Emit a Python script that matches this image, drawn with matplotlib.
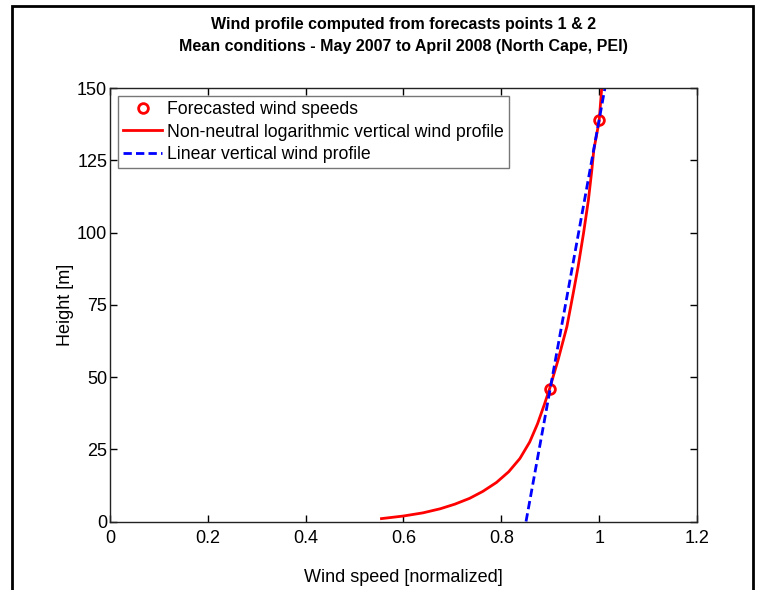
import matplotlib
matplotlib.use('Agg')
import matplotlib.pyplot as plt
from matplotlib.patches import Rectangle

plt.rcParams['font.family'] = ['Liberation Sans', 'DejaVu Sans']

# forecasted points (normalized speed, height)
fc_speed = [0.900, 1.000]
fc_height = [46.0, 139.0]

# non-neutral log profile
log_speed = [0.555, 0.600, 0.640, 0.675, 0.705, 0.735, 0.762, 0.790, 0.815, 0.838,
             0.858, 0.874, 0.888, 0.899, 0.916, 0.934, 0.947, 0.957, 0.968, 0.978,
             0.985, 0.989, 0.995, 1.000, 1.005]
log_height = [1.0, 1.9, 3.0, 4.4, 6.0, 8.0, 10.4, 13.5, 17.2, 21.8,
              27.5, 33.8, 40.5, 46.1, 55.9, 67.4, 79.0, 88.2, 99.7, 111.2,
              121.6, 128.5, 134.0, 138.6, 149.5]

# linear profile through both points
lin_speed = [0.8505, 1.0118]
lin_height = [0.0, 150.0]

fig = plt.figure(figsize=(7.59, 5.90), dpi=100)
ax = fig.add_axes([0.1449, 0.1161, 0.7734, 0.7347])

# frame round the figure (bottom edge is cut off in the original)
fig.patches.append(Rectangle((11.5 / 759, -0.05), (753 - 11.5) / 759, 1.05 - 5.5 / 590,
                             transform=fig.transFigure, fill=False, edgecolor='black',
                             linewidth=2))

h1, = ax.plot(fc_speed, fc_height, 'o', markerfacecolor='none', markeredgecolor='red',
              markeredgewidth=2, markersize=7, label='Forecasted wind speeds')
h2, = ax.plot(log_speed, log_height, '-', color='red', linewidth=2,
              label='Non-neutral logarithmic vertical wind profile')
h3, = ax.plot(lin_speed, lin_height, '--', color='blue', linewidth=2, dashes=(3, 1.5),
              label='Linear vertical wind profile')

ax.set_xlim(0, 1.2)
ax.set_ylim(0, 150)
ax.set_xticks([0, 0.2, 0.4, 0.6, 0.8, 1.0, 1.2])
ax.set_xticklabels(['0', '0.2', '0.4', '0.6', '0.8', '1', '1.2'])
ax.set_yticks([0, 25, 50, 75, 100, 125, 150])
ax.tick_params(direction='in', top=True, right=True, labelsize=13, length=5, width=1)
ax.tick_params(axis='x', pad=6)
ax.tick_params(axis='y', pad=2)
for s in ax.spines.values():
    s.set_linewidth(1)
    s.set_color('#222222')

ax.set_xlabel('Wind speed [normalized]', fontsize=13, labelpad=16)
ax.set_ylabel('Height [m]', fontsize=13, labelpad=2)
fig.text(403.5 / 759, 1 - 25 / 590, 'Wind profile computed from forecasts points 1 & 2',
         ha='center', va='center', fontsize=11.5, fontweight='bold')
fig.text(403.5 / 759, 1 - 47 / 590,
         'Mean conditions - May 2007 to April 2008 (North Cape, PEI)',
         ha='center', va='center', fontsize=11.5, fontweight='bold')

leg = ax.legend(handles=[h1, h2, h3], loc='upper left', fontsize=12.7, frameon=True,
                fancybox=False, edgecolor='#555555', borderaxespad=0.45,
                handlelength=2.2, handletextpad=0.3, borderpad=0.3, labelspacing=0.3,
                numpoints=1)
leg.get_frame().set_linewidth(1)

plt.savefig('out.png', dpi=100)
